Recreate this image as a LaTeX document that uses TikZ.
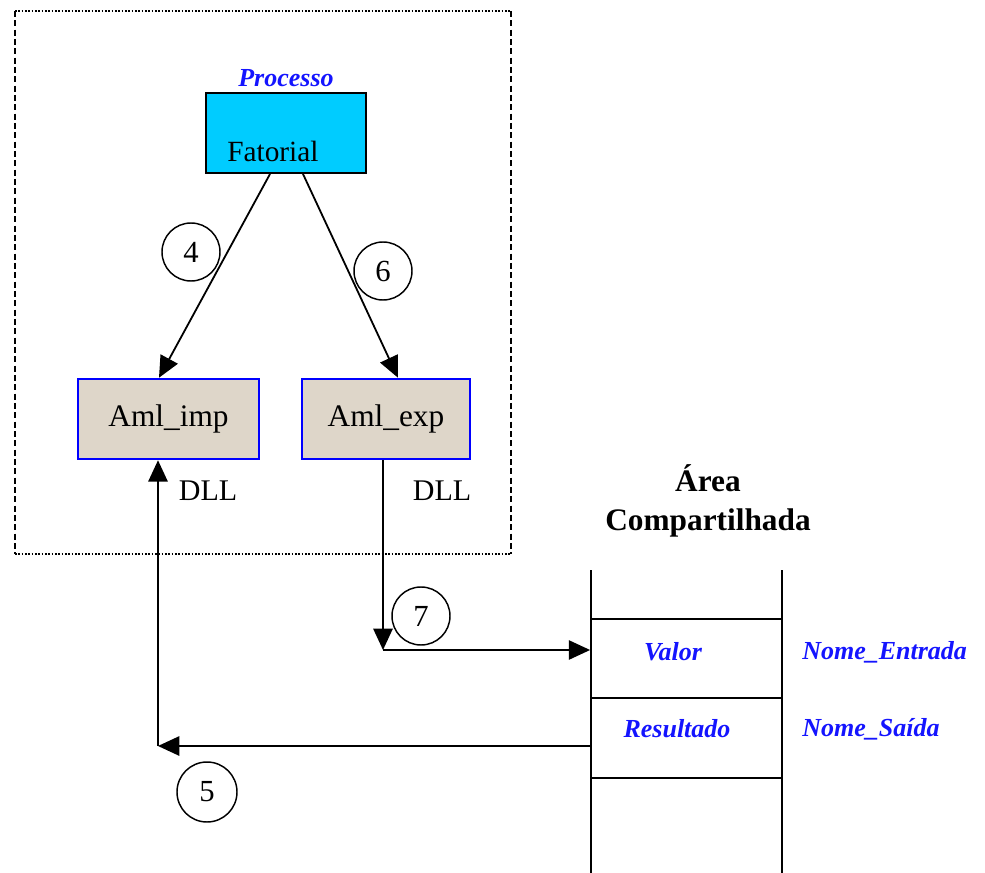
\documentclass[tikz,border=0pt]{standalone}
\usepackage{fontspec}
\setmainfont{Liberation Serif}
\usetikzlibrary{arrows.meta,calc}
\definecolor{procblue}{RGB}{0,204,255}
\definecolor{dllbeige}{RGB}{222,214,201}
\definecolor{labelblue}{RGB}{20,20,255}
\begin{document}
\begin{tikzpicture}[x=0.75pt,y=-0.75pt,
  conn/.style={line width=1.35pt,-{Triangle[length=16pt,width=14.5pt]}},
  plain/.style={line width=1.35pt},
  dllbox/.style={rectangle,draw=blue,line width=1.9pt,fill=dllbeige,
    minimum height=60pt,inner sep=0pt,font=\fontsize{23.5}{26}\selectfont},
  stepnum/.style={circle,draw,line width=1.1pt,minimum size=43.5pt,inner sep=0pt,
    font=\fontsize{23}{26}\selectfont},
  cell/.style={rectangle,draw,line width=1.35pt,minimum width=143.25pt,inner sep=0pt},
  bluelbl/.style={text=labelblue,font=\fontsize{19.5}{22}\selectfont\bfseries\itshape,inner sep=0pt},
  dlllbl/.style={font=\fontsize{22.5}{25}\selectfont,inner sep=0pt}
]
\useasboundingbox (0,0) rectangle (985,873);

% process frame: dotted top and bottom, dashed sides
\draw[line width=0.9pt,dash pattern=on 1.2pt off 1.3pt] (15,11) -- (511,11);
\draw[line width=0.9pt,dash pattern=on 1.2pt off 1.3pt] (15,554) -- (511,554);
\draw[line width=1.1pt,dash pattern=on 4.5pt off 2.5pt] (15,11) -- (15,554);
\draw[line width=1.1pt,dash pattern=on 4.5pt off 2.5pt] (511,11) -- (511,554);

% process and its DLLs
\node[rectangle,draw,line width=1.5pt,fill=procblue,minimum width=120pt,
  minimum height=60pt,inner sep=0pt] (fat) at (286,133) {};
\node[anchor=base west,inner sep=0pt,font=\fontsize{22}{25}\selectfont] (fatlbl) at (227,162) {Fatorial};
\node[bluelbl] (proc) at (286,78) {Processo};

\node[dllbox,minimum width=135.75pt] (imp) at (168.5,419) {Aml\_imp};
\node[dllbox,minimum width=126pt] (exp) at (386,419) {Aml\_exp};
\node[dlllbl] (dll1) at (208,491) {DLL};
\node[dlllbl] (dll2) at (442,491) {DLL};

\draw[conn] ($(fat.south)+(-16,0)$) -- ($(imp.north)+(-9.5,0)$);
\draw[conn] ($(fat.south)+(17,0)$) -- ($(exp.north)+(12,0)$);

\node[stepnum] (n4) at (191,252) {4};
\node[stepnum] (n6) at (383,271) {6};
\node[stepnum] (n7) at (421,616) {7};
\node[stepnum,minimum size=45pt] (n5) at (207,792) {5};

% shared memory area
\node[font=\fontsize{23.5}{29}\selectfont\bfseries,align=center,inner sep=0pt] (area) at (708,501)
  {Área\\Compartilhada};
\node[cell,minimum height=59.25pt] (val) at (686.5,658.5) {};
\node[cell,minimum height=60pt] (res) at (686.5,738) {};
\draw[plain] (591,570) -- (591,873);
\draw[plain] (782,570) -- (782,873);

\node[bluelbl] (valor) at (673,652) {Valor};
\node[bluelbl] (resul) at (677,729) {Resultado};
\node[bluelbl,anchor=west] (nent) at (802,652) {Nome\_Entrada};
\node[bluelbl,anchor=west] (nsai) at (802,729) {Nome\_Saída};

% data flow between the DLLs and the shared area
\coordinate (c7) at (383,650);
\coordinate (c5) at (158,746);
\draw[conn] (exp.south -| c7) -- (c7);
\draw[conn] (c7) -- (val.west |- c7);
\draw[conn] (res.west |- c5) -- (c5);
\draw[conn] (c5) -- (imp.south -| c5);
\end{tikzpicture}
\end{document}
